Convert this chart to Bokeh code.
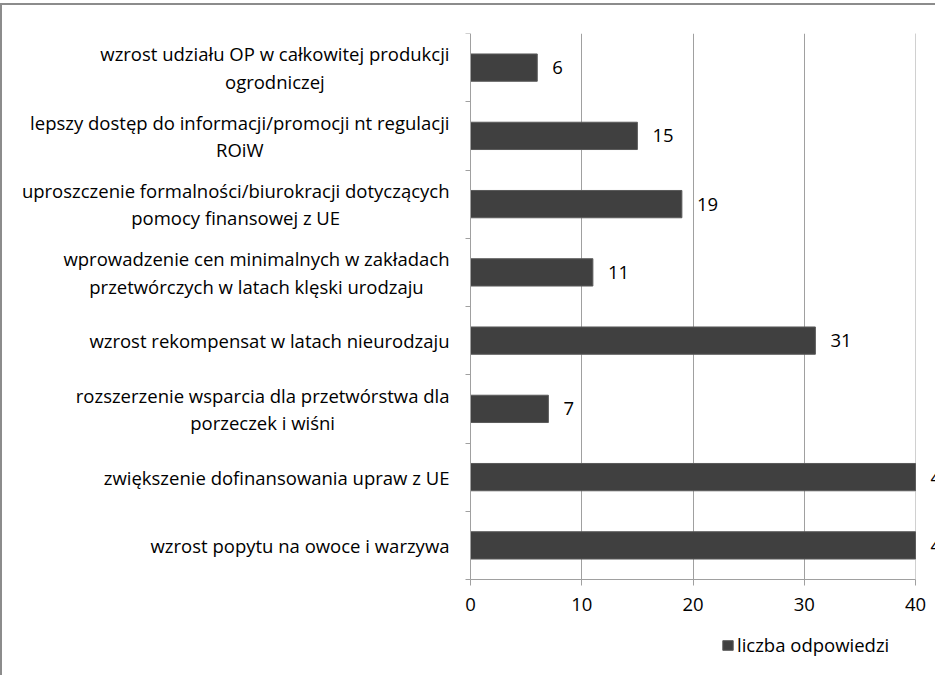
from bokeh.plotting import figure
from bokeh.models import (Range1d, FixedTicker, LabelSet, ColumnDataSource, Legend,
                          LegendItem, BoxAnnotation)
from bokeh.core.properties import value
from bokeh.embed import file_html
from bokeh.resources import INLINE

categories = [
    "wzrost udziału OP w całkowitej produkcji\nogrodniczej",
    "lepszy dostęp do informacji/promocji nt regulacji\nROiW",
    "uproszczenie formalności/biurokracji dotyczących\npomocy finansowej z UE",
    "wprowadzenie cen minimalnych w zakładach\nprzetwórczych w latach klęski urodzaju",
    "wzrost rekompensat w latach nieurodzaju",
    "rozszerzenie wsparcia dla przetwórstwa dla\nporzeczek i wiśni",
    "zwiększenie dofinansowania upraw z UE",
    "wzrost popytu na owoce i warzywa",
]
values = [6, 15, 19, 11, 31, 7, 40, 40]
x_ticks = [0, 10, 20, 30, 40]
series_name = "liczba odpowiedzi"

FONT = "Open Sans"
FS = "18.5px"
n = len(categories)
ypos = [n - 0.5 - i for i in range(n)]
src = ColumnDataSource(dict(y=ypos, v=values, lab=[str(v) for v in values],
                            cat=categories, zero=[x_ticks[0]] * n))

# layout (canvas pixels)
W, H = 935, 672
MB_L, MB_T = 20, 28
ZERO_PX = 448          # value 0 measured from the frame's left edge
SPAN_PX = 445          # pixels from value 0 to the last tick
AXIS_Y = 574           # canvas y of the value-axis line
frame_w = W - MB_L
x_max = x_ticks[-1]
x_start = -x_max * ZERO_PX / SPAN_PX
x_end = x_max * (frame_w - ZERO_PX) / SPAN_PX
band_px = (AXIS_Y - MB_T) / n
y_start = -(H - AXIS_Y) / band_px

p = figure(width=W, height=H, output_backend="svg", toolbar_location=None,
           x_range=Range1d(x_start, x_end), y_range=Range1d(y_start, n),
           min_border_left=MB_L, min_border_right=0,
           min_border_top=MB_T, min_border_bottom=0)
p.margin = (3, 0, 0, 0)
p.styles = {"border-left": "2px solid #8c8c8c", "border-top": "2px solid #8c8c8c"}
p.outline_line_color = None

# vertical grid lines only within the plot area
p.xgrid.ticker = FixedTicker(ticks=x_ticks[1:])
p.xgrid.grid_line_color = "#a0a0a0"
p.ygrid.grid_line_color = None
p.add_layout(BoxAnnotation(top=0, fill_color="white", fill_alpha=1.0,
                           line_color=None, level="underlay"))
p.add_layout(BoxAnnotation(left=x_max, fill_color="white", fill_alpha=1.0,
                           line_color=None, level="underlay"))

bars = p.hbar(y="y", right="v", left=x_ticks[0], height=0.4, source=src,
              fill_color="#404040", line_color="#5a5a5a", line_width=1)

p.add_layout(LabelSet(x="v", y="y", text="lab", source=src, x_offset=15,
                      text_baseline="middle", text_align="left",
                      text_font=value(FONT), text_font_size=FS, text_color="#000000"))

# category labels: block right-aligned to the axis, lines centred
p.text(x="zero", y="y", text="cat", source=src, x_offset=-21,
       anchor=value("center_right"), text_align="center", text_baseline="middle",
       text_font=value(FONT), text_font_size=FS, text_color="#000000",
       text_line_height=1.1)

# x axis at value 0 of the category axis
p.xaxis.fixed_location = 0
p.xaxis.ticker = FixedTicker(ticks=x_ticks)
p.xaxis.bounds = (x_ticks[0], x_ticks[-1])
p.xaxis.axis_line_color = "#a0a0a0"
p.xaxis.major_tick_line_color = "#a0a0a0"
p.xaxis.major_tick_out = 6
p.xaxis.major_tick_in = 0
p.xaxis.minor_tick_line_color = None
p.xaxis.major_label_text_font = FONT
p.xaxis.major_label_text_font_size = FS
p.xaxis.major_label_text_color = "#000000"
p.xaxis.major_label_standoff = 12

# y axis at value 0, ticks at category boundaries
p.yaxis.fixed_location = x_ticks[0]
p.yaxis.bounds = (0, n)
p.yaxis.ticker = FixedTicker(ticks=[], minor_ticks=list(range(n + 1)))
p.yaxis.axis_line_color = "#a0a0a0"
p.yaxis.major_tick_line_color = None
p.yaxis.minor_tick_out = 5
p.yaxis.minor_tick_in = 0
p.yaxis.minor_tick_line_color = "#a0a0a0"

legend = Legend(items=[LegendItem(label=series_name, renderers=[bars])],
                location=(699, 20), orientation="horizontal",
                border_line_color=None, background_fill_alpha=0,
                padding=0, margin=0, glyph_width=13, glyph_height=12,
                label_standoff=3, label_text_font=FONT, label_text_font_size=FS,
                label_text_color="#000000")
p.add_layout(legend, "center")

open("out.html", "w").write(file_html(p, INLINE))
